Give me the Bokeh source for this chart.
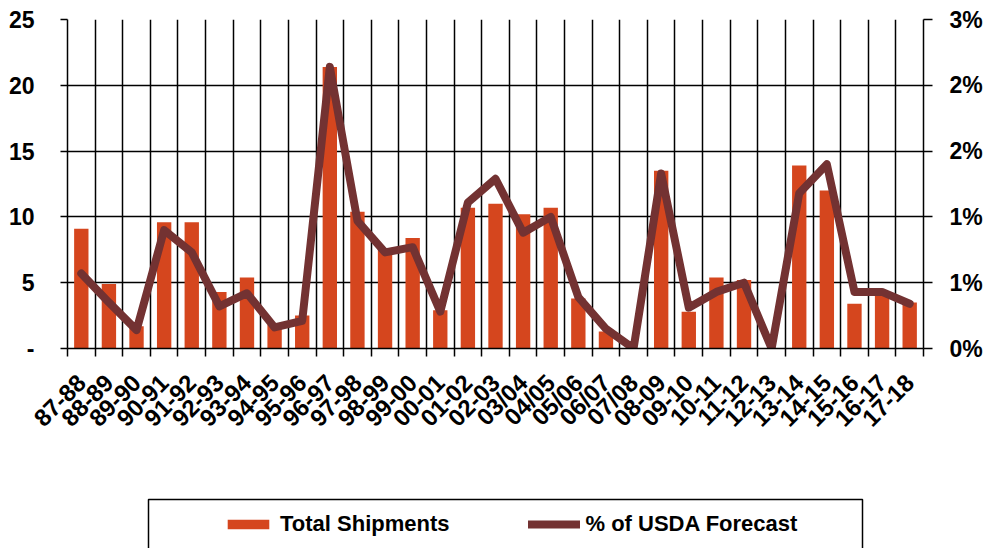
import math
from bokeh.plotting import figure
from bokeh.models import (Range1d, LinearAxis, FixedTicker, Legend, LegendItem, BoxAnnotation)
from bokeh.layouts import column
from bokeh.embed import file_html
from bokeh.resources import INLINE

# ---------------- data ----------------
seasons = ["87-88", "88-89", "89-90", "90-91", "91-92", "92-93", "93-94", "94-95",
           "95-96", "96-97", "97-98", "98-99", "99-00", "00-01", "01-02", "02-03",
           "03/04", "04/05", "05/06", "06/07", "07/08", "08-09", "09-10", "10-11",
           "11-12", "12-13", "13-14", "14-15", "15-16", "16-17", "17-18"]
total_shipments = [9.1, 4.9, 1.7, 9.6, 9.6, 4.3, 5.4, 1.8,
                   2.5, 21.4, 10.4, 7.6, 8.4, 2.9, 10.7, 11.0,
                   10.2, 10.7, 3.8, 1.3, 0.0, 13.5, 2.8, 5.4,
                   5.2, 0.0, 13.9, 12.0, 3.4, 4.3, 3.5]
pct_of_forecast = [0.57, 0.35, 0.14, 0.90, 0.73, 0.32, 0.42, 0.16,
                   0.21, 2.14, 0.97, 0.73, 0.77, 0.28, 1.11, 1.29,
                   0.88, 1.00, 0.39, 0.15, 0.00, 1.33, 0.31, 0.43,
                   0.50, 0.00, 1.18, 1.40, 0.43, 0.43, 0.34]
left_ticks = [0, 5, 10, 15, 20, 25]
left_tick_labels = ["-", "5", "10", "15", "20", "25"]
right_ticks = [0, 0.5, 1.0, 1.5, 2.0, 2.5]
right_tick_labels = ["0%", "1%", "1%", "2%", "2%", "3%"]
series_names = ["Total Shipments", "% of USDA Forecast"]

# ---------------- style ----------------
FONT = "Liberation Sans"
BAR = "#D5461E"
LINE = "#733232"

n = len(seasons)
centers = [i + 0.5 for i in range(n)]
bounds = list(range(n + 1))

p = figure(width=990, height=497, x_range=Range1d(0, n),
           y_range=Range1d(left_ticks[0], left_ticks[-1]),
           output_backend="svg", toolbar_location=None,
           min_border_left=67, min_border_right=67, min_border_top=19, min_border_bottom=149,
           outline_line_color=None, background_fill_color="white", border_fill_color="white")
p.extra_y_ranges = {"pct": Range1d(right_ticks[0], right_ticks[-1])}

# grid
p.xgrid.ticker = FixedTicker(ticks=bounds)
p.ygrid.ticker = FixedTicker(ticks=left_ticks)
p.grid.grid_line_color = "black"
p.grid.grid_line_width = 1.5

# glyphs
p.vbar(x=centers, top=total_shipments, width=0.52, fill_color=BAR, line_color=None)
p.line(x=centers, y=pct_of_forecast, y_range_name="pct", line_color=LINE, line_width=8,
       line_join="round", line_cap="round")

# x axis
xa = p.xaxis[0]
xa.ticker = FixedTicker(ticks=centers, minor_ticks=bounds)
xa.major_label_overrides = {c: s for c, s in zip(centers, seasons)}
xa.major_tick_line_color = None
xa.minor_tick_out = 8
xa.minor_tick_in = 0
xa.minor_tick_line_color = "black"
xa.minor_tick_line_width = 1.5
xa.major_label_orientation = math.pi / 4
xa.major_label_standoff = 22

# left axis
ya = p.yaxis[0]
ya.ticker = FixedTicker(ticks=left_ticks)
ya.major_label_overrides = dict(zip(left_ticks, left_tick_labels))
ya.major_tick_out = 7
ya.major_tick_in = 0
ya.minor_tick_line_color = None
ya.major_label_standoff = 26

# right axis
ra = LinearAxis(y_range_name="pct", ticker=FixedTicker(ticks=right_ticks),
                major_label_overrides=dict(zip(right_ticks, right_tick_labels)))
ra.major_tick_out = 9
ra.major_tick_in = 0
ra.minor_tick_line_color = None
ra.major_label_standoff = 17
p.add_layout(ra, "right")

for ax in [xa, ya, ra]:
    ax.axis_line_color = "black"
    ax.axis_line_width = 1.5
    ax.major_tick_line_width = 1.5
    ax.major_label_text_font = FONT
    ax.major_label_text_font_style = "bold"
    ax.major_label_text_color = "black"
ya.major_label_text_font_size = "23px"
ra.major_label_text_font_size = "23px"
xa.major_label_text_font_size = "24px"

# ---------------- legend strip (same frame margins as the chart) ----------------
lg = figure(width=990, height=51, x_range=Range1d(0, 856), y_range=Range1d(0, 51),
            output_backend="svg", toolbar_location=None,
            x_axis_location=None, y_axis_location=None,
            min_border_left=67, min_border_right=67, min_border_top=0, min_border_bottom=0,
            outline_line_color=None, background_fill_color="white", border_fill_color="white")
lg.grid.visible = False
lg.add_layout(BoxAnnotation(left=81, right=795, top=49, bottom=-10,
                            fill_alpha=0, line_color="black", line_alpha=1.0, line_width=1.5))
# legend key glyphs: the real series, mapped to a y range above all values so nothing shows
lg.extra_x_ranges = {"keys": Range1d(0, n)}
lg.extra_y_ranges = {"keys": Range1d(left_ticks[-1], left_ticks[-1] + 1)}
kb = lg.vbar(x=centers, top=total_shipments, width=0.52,
             x_range_name="keys", y_range_name="keys", fill_color=BAR, line_color=None)
kl = lg.line(x=centers, y=pct_of_forecast, x_range_name="keys", y_range_name="keys",
             line_color=LINE, line_width=8, line_cap="round")
legend = Legend(items=[LegendItem(label=series_names[0], renderers=[kb]),
                       LegendItem(label=series_names[1], renderers=[kl])],
                orientation="horizontal", location=(155, 11), padding=0, margin=0,
                spacing=78, glyph_width=52, glyph_height=12, label_standoff=6,
                border_line_color=None, background_fill_alpha=0,
                label_text_font=FONT, label_text_font_style="bold",
                label_text_font_size="22px", label_text_color="black")
lg.add_layout(legend, "center")

layout = column(p, lg, spacing=0)
open("out.html", "w").write(file_html(layout, INLINE))
